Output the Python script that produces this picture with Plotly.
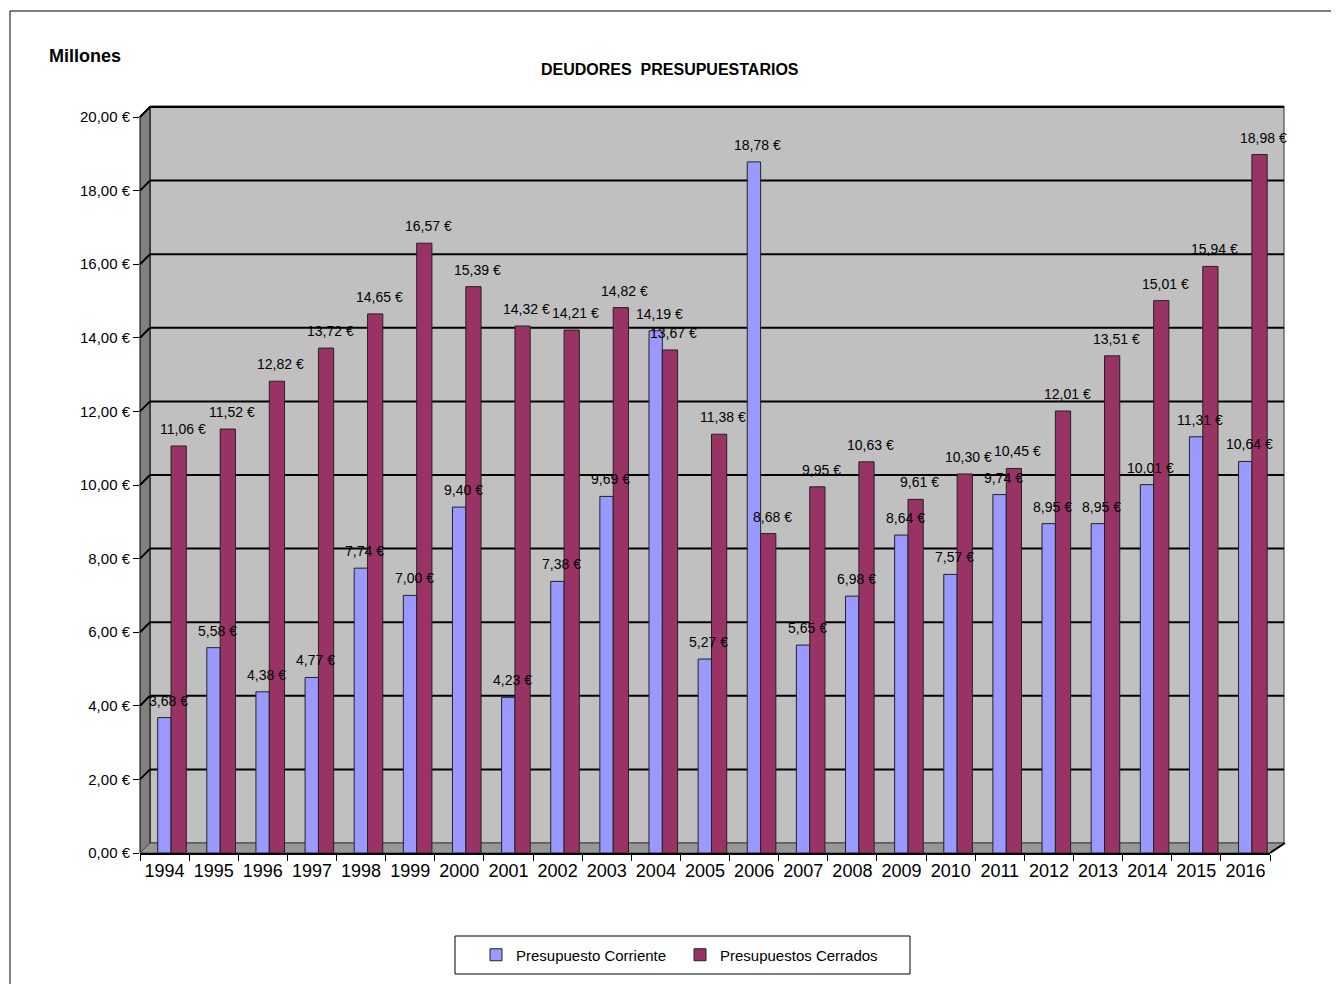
import plotly.graph_objects as go

years = ["1994", "1995", "1996", "1997", "1998", "1999", "2000", "2001", "2002", "2003", "2004", "2005",
         "2006", "2007", "2008", "2009", "2010", "2011", "2012", "2013", "2014", "2015", "2016"]
corriente = [3.68, 5.58, 4.38, 4.77, 7.74, 7.00, 9.40, 4.23, 7.38, 9.69, 14.19, 5.27,
             18.78, 5.65, 6.98, 8.64, 7.57, 9.74, 8.95, 8.95, 10.01, 11.31, 10.64]
cerrados = [11.06, 11.52, 12.82, 13.72, 14.65, 16.57, 15.39, 14.32, 14.21, 14.82, 13.67, 11.38,
            8.68, 9.95, 10.63, 9.61, 10.30, 10.45, 12.01, 13.51, 15.01, 15.94, 18.98]
y_ticks = [0, 2, 4, 6, 8, 10, 12, 14, 16, 18, 20]
y_ticktext = [f"{v:.2f} €".replace(".", ",") for v in y_ticks]

# page body has an 8px margin; work in screen pixels and shift
OFF = 8
W, H = 1339 - 2 * OFF, 992 - 2 * OFF
X0, X1 = 140, 1270          # plot domain (screen px)
Y0, Y1 = 106, 853           # plot top / zero line (screen px)
L, R = X0 - OFF, W - (X1 - OFF)
T, B = Y0 - OFF, H - (Y1 - OFF)
PW, PH = W - L - R, H - T - B
PX_PER_UNIT = 36.8
YMAX = PH / PX_PER_UNIT
DEPTH = 10 / PX_PER_UNIT     # back wall offset in data units

def px(x):
    return (x - OFF - L) / PW

def py(y):
    return (H - B - (y - OFF)) / PH

FONT = "Liberation Sans, Arial, sans-serif"

BLUE_OFF, BLUE_W = -0.14, 0.272
RED_OFF, RED_W = 0.132, 0.31

fig = go.Figure()
fig.add_trace(go.Bar(
    x=years, y=corriente, name="Presupuesto Corriente",
    offset=BLUE_OFF, width=BLUE_W,
    marker=dict(color="#9999FF", line=dict(color="#222222", width=1)),
    hovertemplate="%{x}: %{y:.2f} €<extra></extra>",
))
fig.add_trace(go.Bar(
    x=years, y=cerrados, name="Presupuestos Cerrados",
    offset=RED_OFF, width=RED_W,
    marker=dict(color="#993366", line=dict(color="#222222", width=1)),
    hovertemplate="%{x}: %{y:.2f} €<extra></extra>",
))

shapes = [
    # outer chart border
    dict(type="rect", xref="paper", yref="paper", x0=px(10), y0=py(11), x1=px(1400), y1=py(1050),
         line=dict(color="black", width=1), fillcolor="rgba(0,0,0,0)", layer="below"),
    # back wall
    dict(type="rect", xref="paper", yref="paper", x0=px(150), y0=py(106), x1=px(1284), y1=py(843),
         fillcolor="#C0C0C0", line=dict(color="#333333", width=1), layer="below"),
    # left side wall
    dict(type="path", xref="paper", yref="paper",
         path=f"M {px(140)} {py(116)} L {px(150)} {py(106)} L {px(150)} {py(843)} L {px(140)} {py(853)} Z",
         fillcolor="#808080", line=dict(color="black", width=1), layer="below"),
    # floor
    dict(type="path", xref="paper", yref="paper",
         path=f"M {px(140)} {py(853)} L {px(150)} {py(843)} L {px(1284)} {py(843)} L {px(1270)} {py(853)} Z",
         fillcolor="#979797", line=dict(color="#444444", width=1), layer="below"),
]
for v in y_ticks:
    if v == 0:
        continue
    shapes.append(dict(type="line", xref="paper", yref="y", x0=px(150), x1=px(1284),
                       y0=v + DEPTH, y1=v + DEPTH, line=dict(color="black", width=2), layer="below"))
    shapes.append(dict(type="line", xref="paper", yref="y", x0=px(140), x1=px(150),
                       y0=v, y1=v + DEPTH, line=dict(color="black", width=2), layer="below"))
# legend box
shapes.append(dict(type="rect", xref="paper", yref="paper", x0=px(455), y0=py(936), x1=px(910), y1=py(974),
                   line=dict(color="black", width=1), fillcolor="white", layer="below"))
# floor right slant edge line
shapes.append(dict(type="line", xref="paper", yref="paper", x0=px(1270), y0=py(853), x1=px(1285), y1=py(843),
                   line=dict(color="black", width=2)))

annotations = [
    dict(text="<b>DEUDORES  PRESUPUESTARIOS</b>", xref="paper", yref="paper",
         x=px(670), y=py(59), showarrow=False, font=dict(size=16, family=FONT)),
    dict(text="<b>Millones</b>", xref="paper", yref="paper",
         x=px(47), xanchor="left", y=py(44), showarrow=False, font=dict(size=18, family=FONT)),
]
# data labels, drawn above all bars (x given as category index)
for values, off, w in ((corriente, BLUE_OFF, BLUE_W), (cerrados, RED_OFF, RED_W)):
    for i, v in enumerate(values):
        annotations.append(dict(
            x=i + off + w / 2, y=v, xref="x", yref="y", showarrow=False,
            text=f"{v:.2f} €".replace(".", ","),
            xanchor="center", yanchor="bottom",
            xshift=4, yshift=7,
            font=dict(size=14, family=FONT, color="black"),
        ))

fig.update_layout(
    width=W, height=H,
    margin=dict(l=L, r=R, t=T, b=B),
    paper_bgcolor="white",
    plot_bgcolor="rgba(0,0,0,0)",
    separators=",.",
    barmode="overlay",
    font=dict(family=FONT, color="black", size=15),
    showlegend=True,
    legend=dict(orientation="h", x=px(680), xanchor="center", y=py(955), yanchor="middle",
                borderwidth=0, bgcolor="rgba(0,0,0,0)",
                font=dict(size=15, family=FONT), itemwidth=30,
                entrywidth=159, entrywidthmode="pixels"),
    shapes=shapes,
    annotations=annotations,
)
fig.update_xaxes(
    type="category", range=[-0.5, len(years) - 0.5], tickangle=0,
    showline=True, linecolor="black", linewidth=2,
    ticks="outside", tickson="boundaries", ticklen=6, tickcolor="black", tickwidth=1,
    tickfont=dict(size=18, family=FONT), showgrid=False,
)
fig.update_yaxes(
    range=[0, YMAX],
    tickvals=y_ticks, ticktext=y_ticktext,
    showgrid=False,
    ticks="outside", ticklen=6, tickcolor="black", tickwidth=1,
    tickfont=dict(size=15, family=FONT),
    showline=False, zeroline=False,
)
fig.write_html("out.html")
